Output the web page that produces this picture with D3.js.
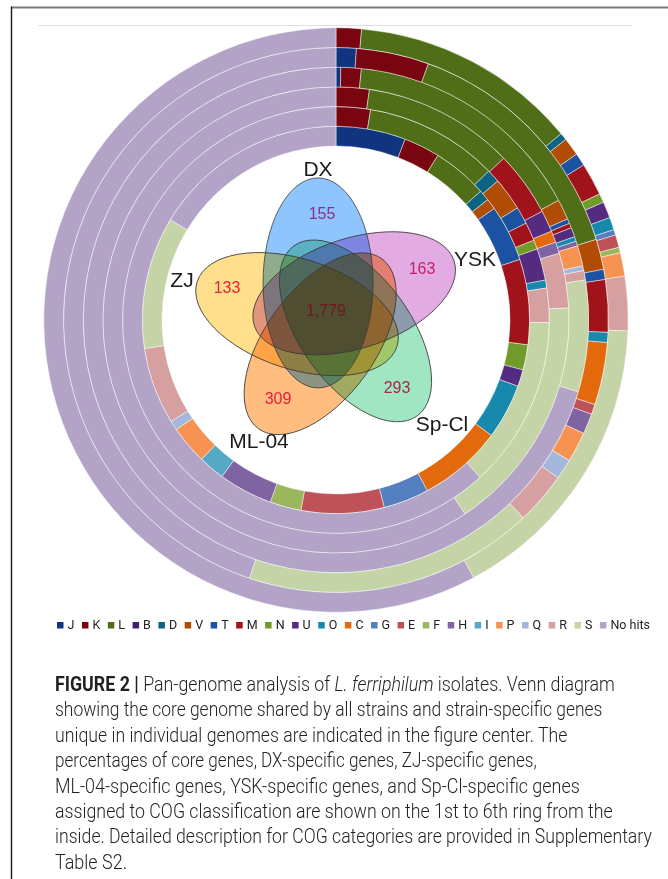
<!DOCTYPE html>
<html>
<head>
<meta charset="utf-8">
<script src="https://cdn.jsdelivr.net/npm/d3@7"></script>
<style>
  body { margin: 0; background: #fff; }
  svg { display: block; }
</style>
</head>
<body>
<svg id="fig" width="668" height="879"></svg>
<script>
// COG functional categories (legend order, also the stacking order of every ring)
const categories = ["J","K","L","B","D","V","T","M","N","U","O","C","G","E","F","H","I","P","Q","R","S","No hits"];
const categoryColors = ["#10357e","#790511","#4f6e17","#3d1f6b","#0c6382","#b14c04","#1b52a2","#a0131b",
  "#709a2a","#552b80","#1689ac","#e36a0c","#5580c0","#bf5259","#9ab75e","#8064a2","#56a9c5","#f79352",
  "#a5b6db","#d69fa0","#c4d4a6","#b2a3c7"];

// Share (%) of each gene set assigned to each COG category, inner ring to outer ring
const ringNames = ["Core","DX","ZJ","ML-04","YSK","Sp-Cl"];
const coreShare = [5.8,3.0,4.6,0,0.9,0.9,4.7,7.1,2.1,1.4,4.6,7.0,3.8,6.9,2.6,4.5,2.2,3.2,0.8,6.4,11.0,16.3];
const dxShare   = [0,2.6,10.1,0,1.0,2.5,1.3,1.4,0.7,2.4,0.6,0,0,0,0,0,0,0,0,2.6,13.0,61.8];
const zjShare   = [0,2.3,10.5,0,0,0,0,4.5,0,1.5,0,0.8,0,0,0,0.8,0,0,0,3.8,16.5,59.4];
const ml04Share = [0.3,1.3,15.5,0,0,1.3,0.3,0.3,0,0.6,0.3,0,0,0,0,0.3,0,1.3,0.3,0.6,7.1,70.2];
const yskShare  = [1.2,4.3,14.7,0,0,1.8,0.6,3.1,0,0,0.6,3.7,0,0.6,0,1.2,0,1.8,1.2,3.1,17.2,44.8];
const spclShare = [0,1.4,12.6,0,0.4,1.0,0.7,1.8,0.5,0.9,0.7,0,0.3,0.7,0.3,0,0,1.3,0,3.0,16.6,57.8];
const ringShares = [coreShare, dxShare, zjShare, ml04Share, yskShare, spclShare];

// Venn diagram: strain-specific gene counts and the shared core
const vennSets   = ["DX","YSK","Sp-Cl","ML-04","ZJ"];
const vennUnique = [155,163,293,309,133];
const vennCore   = 1779;
const vennFills  = ["#8ec5ff","#e2ace2","#a0e6c2","#ffbd80","#ffde8c"];
const vennNumberColors = ["#8e2f8c","#c8206a","#a3284e","#e8203a","#e8203a"];

// Caption
const captionLines = [
  [["FIGURE 2 | ","b"],["Pan-genome analysis of ",""],["L. ferriphilum","i"],[" isolates. Venn diagram",""]],
  [["showing the core genome shared by all strains and strain-specific genes",""]],
  [["unique in individual genomes are indicated in the figure center. The",""]],
  [["percentages of core genes, DX-specific genes, ZJ-specific genes,",""]],
  [["ML-04-specific genes, YSK-specific genes, and Sp-Cl-specific genes",""]],
  [["assigned to COG classification are shown on the 1st to 6th ring from the",""]],
  [["inside. Detailed description for COG categories are provided in Supplementary",""]],
  [["Table S2.",""]]
];

// ---------- layout ----------
const W = 668, H = 879;
const cx = 336, cy = 320;
const innerR = 174, ringW = 19.7;
const captionX = 55, captionY0 = 691, captionStep = 25.4;
const captionRight = [615, 603, 568, 537, 580, 613, 652, 127];

const svg = d3.select("#fig");
svg.append("rect").attr("width", W).attr("height", H).attr("fill", "#fff");

// page frame
svg.append("line").attr("x1", 11).attr("x2", W).attr("y1", 7.5).attr("y2", 7.5)
  .attr("stroke", "#7a7a7a").attr("stroke-width", 2);
svg.append("line").attr("x1", 11.5).attr("x2", 11.5).attr("y1", 6.5).attr("y2", H)
  .attr("stroke", "#1a1a1a").attr("stroke-width", 1.4);
svg.append("line").attr("x1", 38).attr("x2", 632).attr("y1", 25.5).attr("y2", 25.5)
  .attr("stroke", "#dedede").attr("stroke-width", 1);

// ---------- concentric COG rings ----------
const color = d3.scaleOrdinal().domain(categories).range(categoryColors);
const pie = d3.pie().sort(null).value(d => d.value);
const rings = svg.append("g").attr("transform", `translate(${cx},${cy})`);

ringShares.forEach((shares, i) => {
  const data = categories.map((c, k) => ({ cat: c, value: shares[k] })).filter(d => d.value > 0);
  const arc = d3.arc().innerRadius(innerR + i * ringW).outerRadius(innerR + (i + 1) * ringW);
  rings.append("g").attr("class", "ring ring-" + ringNames[i])
    .selectAll("path").data(pie(data)).join("path")
    .attr("d", arc)
    .attr("fill", d => color(d.data.cat))
    .attr("stroke", "#ffffff").attr("stroke-opacity", 0.65).attr("stroke-width", 0.7);
});

// ---------- five-set Venn diagram ----------
const vx = 329, vy = 313, offset = 32, offsetTurn = -20, semiA = 105, semiB = 55;
const rad = Math.PI / 180;
const ell = vennSets.map((name, k) => {
  const phi = 72 * k;
  const t = (phi + offsetTurn) * rad;
  return { name, phi, x: vx + offset * Math.sin(t), y: vy - offset * Math.cos(t), k };
});
const venn = svg.append("g").style("isolation", "isolate");
venn.selectAll("ellipse.fill").data(ell).join("ellipse")
  .attr("class", "fill")
  .attr("cx", 0).attr("cy", 0).attr("rx", semiB).attr("ry", semiA)
  .attr("transform", d => `translate(${d.x},${d.y}) rotate(${d.phi})`)
  .attr("fill", d => vennFills[d.k])
  .style("mix-blend-mode", "multiply");
venn.selectAll("ellipse.edge").data(ell).join("ellipse")
  .attr("class", "edge")
  .attr("cx", 0).attr("cy", 0).attr("rx", semiB).attr("ry", semiA)
  .attr("transform", d => `translate(${d.x},${d.y}) rotate(${d.phi})`)
  .attr("fill", "none").attr("stroke", "#3a3a3a").attr("stroke-width", 0.8);

// unique counts sit in each petal tip; names just outside the tip
const numPos = [[322, 219], [422, 274], [397, 393], [278, 404], [227, 293]];
const namePos = [[318, 176], [475, 266], [442, 431], [259, 448], [182, 287]];
venn.selectAll("text.num").data(ell).join("text")
  .attr("class", "num")
  .attr("x", d => numPos[d.k][0]).attr("y", d => numPos[d.k][1])
  .attr("text-anchor", "middle").attr("font-family", "Liberation Sans, Arial, sans-serif")
  .attr("font-size", 16).attr("fill", d => vennNumberColors[d.k])
  .text(d => vennUnique[d.k]);
venn.selectAll("text.name").data(ell).join("text")
  .attr("class", "name")
  .attr("x", d => namePos[d.k][0]).attr("y", d => namePos[d.k][1])
  .attr("text-anchor", "middle").attr("font-family", "Liberation Sans, Arial, sans-serif")
  .attr("font-size", 21).attr("fill", "#1a1a1a")
  .text(d => d.name);
venn.append("text").attr("x", 326).attr("y", 316)
  .attr("text-anchor", "middle").attr("font-family", "Liberation Sans, Arial, sans-serif")
  .attr("font-size", 16).attr("fill", "#6e1a22")
  .text(d3.format(",")(vennCore));

// ---------- legend ----------
// entries are laid out one after another, each as wide as its own label
const legendStart = 57, legendEnd = 650, swatch = 6.5, swatchGap = 4;
const legend = svg.append("g").attr("font-family", "Roboto, Liberation Sans, sans-serif")
  .attr("font-size", 12.5).attr("fill", "#222");
const item = legend.selectAll("g").data(categories).join("g");
item.append("rect").attr("y", -7).attr("width", swatch).attr("height", swatch).attr("fill", c => color(c));
item.append("text").attr("x", swatch + swatchGap).attr("y", 0).text(c => c);
const labelW = item.select("text").nodes().map(n => n.getComputedTextLength());
const used = d3.sum(labelW) + categories.length * (swatch + swatchGap);
const pad = (legendEnd - legendStart - used) / (categories.length - 1);
let lx = legendStart;
item.each(function (c, k) {
  d3.select(this).attr("transform", `translate(${lx},629)`);
  lx += swatch + swatchGap + labelW[k] + pad;
});

// ---------- caption ----------
// each line is set in a light sans and condensed horizontally to its measured width
const cap = svg.append("g").attr("font-family", "Roboto, Liberation Sans, sans-serif")
  .attr("font-weight", 300).attr("font-size", 20.5).attr("fill", "#231f20");
captionLines.forEach((segs, i) => {
  const t = cap.append("text").attr("x", 0).attr("y", 0);
  segs.forEach(([s, st]) => {
    t.append("tspan").text(s)
      .attr("font-weight", st === "b" ? "bold" : null)
      .attr("font-style", st === "i" ? "italic" : null);
  });
  const w = t.node().getComputedTextLength();
  const sx = (captionRight[i] - captionX) / w;
  t.attr("transform", `translate(${captionX},${captionY0 + i * captionStep}) scale(${sx},1)`);
});
</script>
</body>
</html>
